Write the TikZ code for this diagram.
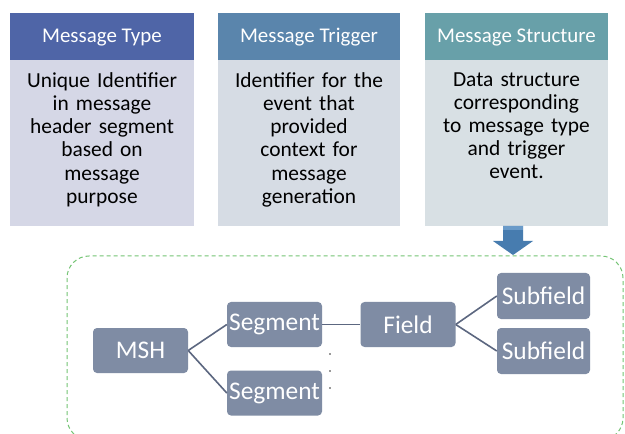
\documentclass[tikz,border=0pt]{standalone}
\usepackage{fontspec}
\setmainfont{Carlito}
\definecolor{hOne}{HTML}{4F65A7}
\definecolor{hTwo}{HTML}{5A85AC}
\definecolor{hThree}{HTML}{68A0A9}
\definecolor{bOne}{HTML}{D5D7E6}
\definecolor{bTwo}{HTML}{D6DCE4}
\definecolor{bThree}{HTML}{D8E0E4}
\definecolor{nodeFill}{HTML}{7F8CA4}
\definecolor{lineCol}{HTML}{5C6780}
\definecolor{dashGreen}{HTML}{74C474}
\definecolor{arrowBlue}{HTML}{477CAF}
\definecolor{arrowLight}{HTML}{6A9BC9}
\begin{document}
\begin{tikzpicture}[x=1bp,y=-1bp,
  headtext/.style={text=white,font=\fontsize{21}{23}\selectfont},
  bodytext/.style={anchor=north,text width=178bp,align=center,inner sep=0pt,
    text=black,font=\fontsize{21.5}{23.2}\selectfont},
  hbox/.style={draw=none,minimum width=95bp,minimum height=45bp,inner sep=0pt,
    fill=nodeFill,rounded corners=4bp,text=white,font=\fontsize{25.5}{27}\selectfont},
  conn/.style={draw=lineCol,line width=1.6bp}
]
\useasboundingbox (0,0) rectangle (625,434);
\fill[white] (0,0) rectangle (625,434);
% top boxes
\fill[bOne] (10,60) rectangle (194,226);
\fill[hOne] (10,13) rectangle (194,60);
\fill[bTwo] (218,60) rectangle (400,226);
\fill[hTwo] (218,13) rectangle (400,60);
\fill[bThree] (425,60) rectangle (608,226);
\fill[hThree] (425,13) rectangle (608,60);
\node[headtext] (h1) at (102,37.5) {Message Type};
\node[headtext] (h2) at (309,37.5) {Message Trigger};
\node[headtext] (h3) at (516.5,37.5) {Message Structure};
\node[bodytext] (t1) at (102,72.5) {Unique Identifier\\ in message\\ header segment\\ based on\\ message\\ purpose};
\node[bodytext] (t2) at (309,72.5) {Identifier for the\\ event that\\ provided\\ context for\\ message\\ generation};
\node[bodytext] (t3) at (516.5,72.5) {Data structure\\ corresponding\\ to message type\\ and trigger\\ event.};
% arrow
\fill[arrowBlue] (503,226) -- (523,226) -- (523,241) -- (533,241) -- (513,255) -- (493,241) -- (503,241) -- cycle;
\fill[arrowLight] (503,226) rectangle (523,230);
% dashed container
\draw[dashGreen,line width=1bp,dash pattern=on 4bp off 3bp,rounded corners=22bp] (67,256) rectangle (623,440);
% nodes
\node[hbox] (msh) at (140.5,350.5) {MSH};
\node[hbox] (seg1) at (274.5,324.5) {Segment};
\node[hbox] (seg2) at (274.5,393) {Segment};
\node[hbox] (field) at (408,324.5) {Field};
\node[hbox,minimum width=93bp,minimum height=46bp] (sub1) at (543.5,296) {Subfield};
\node[hbox,minimum width=93bp,minimum height=46bp] (sub2) at (543.5,351) {Subfield};
\draw[conn] (msh.east) -- (seg1.west);
\draw[conn] (msh.east) -- (seg2.west);
\draw[conn] (seg1.east) -- (field.west);
\draw[conn] (field.east) -- (sub1.west);
\draw[conn] (field.east) -- (sub2.west);
% dots
\fill[black!80] (330,354) circle (0.9bp);
\fill[black!80] (330,371) circle (0.9bp);
\fill[black!80] (330,388) circle (0.9bp);
\end{tikzpicture}
\end{document}
